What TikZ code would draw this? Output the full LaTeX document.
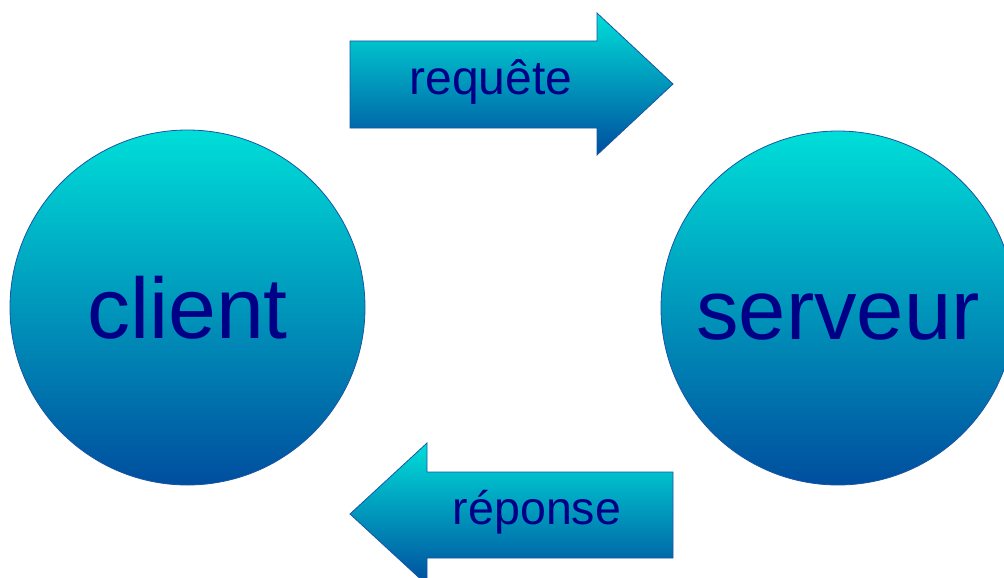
\documentclass[tikz,border=0pt]{standalone}
\usepackage{fontspec}
\setmainfont{Liberation Sans}
\definecolor{topc}{RGB}{0,222,216}
\definecolor{botc}{RGB}{0,78,158}
\definecolor{edgec}{RGB}{25,85,165}
\definecolor{txtc}{RGB}{0,0,135}
\begin{document}
\begin{tikzpicture}[x=1pt,y=-1pt,
  shapeshade/.style={top color=topc, bottom color=botc, draw=edgec, line width=0.8pt},
  bigcircle/.style={circle, shapeshade, inner sep=0pt, text=txtc, text height=62pt, text depth=0pt},
  arrowlabel/.style={anchor=base, text=txtc, inner sep=0pt}]
\useasboundingbox (0,0) rectangle (1004,578);
\clip (0,0) rectangle (1004,578);
\node[bigcircle, minimum size=355pt, font=\fontsize{86}{90}\selectfont] (client) at (187.5,307.5) {client};
\node[bigcircle, minimum size=354pt, font=\fontsize{85}{90}\selectfont] (serveur) at (838,308) {serveur};
\path[shapeshade] (350,41) -- (597,41) -- (597,13) -- (673,84) -- (597,155) -- (597,128) -- (350,128) -- cycle;
\path[shapeshade] (673,472) -- (427,472) -- (427,443) -- (350,514) -- (427,585) -- (427,558) -- (673,558) -- cycle;
\node[arrowlabel, font=\fontsize{48}{50}\selectfont] (req) at (491,94) {requête};
\node[arrowlabel, font=\fontsize{46.5}{50}\selectfont] (rep) at (537,524) {réponse};
\end{tikzpicture}
\end{document}
